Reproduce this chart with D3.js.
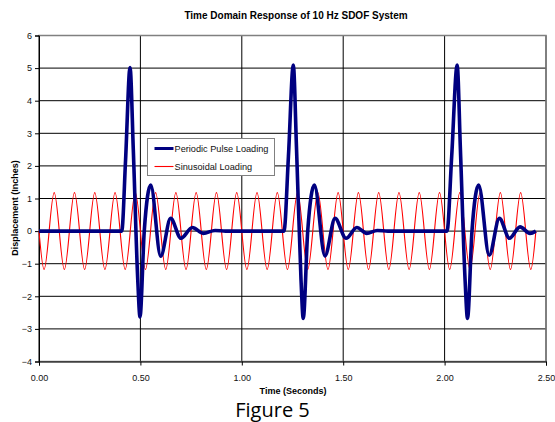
<!DOCTYPE html>
<html>
<head>
<meta charset="utf-8">
<script src="https://cdn.jsdelivr.net/npm/d3@7"></script>
<style>
	body { margin: 0; background: #fff; }
	svg { display: block; }
</style>
</head>
<body>
<svg id="chart" width="555" height="422"></svg>
<script>
var chartTitle = "Time Domain Response of 10 Hz SDOF System";
var xTitle = "Time (Seconds)";
var yTitle = "Displacement (Inches)";
var caption = "Figure 5";
var seriesNames = ["Periodic Pulse Loading", "Sinusoidal Loading"];
var xTicks = [0, 0.5, 1, 1.5, 2, 2.5];
var yTicks = [-4, -3, -2, -1, 0, 1, 2, 3, 4, 5, 6];

// pulse response (seconds / inches)
var pulseTimes = [
	0, 0.408, 0.427, 0.449, 0.465, 0.487, 0.498, 0.519, 0.551, 0.600, 0.649, 0.700, 0.756, 0.810, 0.868, 0.920,
	1.208, 1.230, 1.254, 1.270, 1.292, 1.303, 1.325, 1.358, 1.410, 1.460, 1.514, 1.567, 1.616, 1.668, 1.720,
	2.012, 2.035, 2.062, 2.078, 2.101, 2.113, 2.135, 2.168, 2.220, 2.270, 2.320, 2.372, 2.421, 2.450
];
var pulseValues = [
	0, 0, 2.2, 5.02, 2.5, -1.5, -2.63, 0, 1.41, -0.77, 0.39, -0.22, 0.11, -0.07, 0.02, 0,
	0, 2.3, 5.09, 2.5, -1.5, -2.68, 0, 1.41, -0.76, 0.39, -0.22, 0.11, -0.07, 0.02, 0,
	0, 2.3, 5.09, 2.5, -1.5, -2.68, 0, 1.41, -0.74, 0.39, -0.22, 0.13, -0.07, 0
];

// sinusoidal loading, zero crossings and peaks (quarter periods)
var sineTimes = [
	0.000, 0.025, 0.050, 0.075, 0.100, 0.125, 0.150, 0.175,
	0.200, 0.225, 0.250, 0.275, 0.300, 0.325, 0.350, 0.375,
	0.400, 0.425, 0.450, 0.475, 0.500, 0.525, 0.550, 0.575,
	0.600, 0.625, 0.650, 0.675, 0.700, 0.725, 0.750, 0.775,
	0.800, 0.825, 0.850, 0.875, 0.900, 0.925, 0.950, 0.975,
	1.000, 1.025, 1.050, 1.075, 1.100, 1.125, 1.150, 1.175,
	1.200, 1.225, 1.250, 1.275, 1.300, 1.325, 1.350, 1.375,
	1.400, 1.425, 1.450, 1.475, 1.500, 1.525, 1.550, 1.575,
	1.600, 1.625, 1.650, 1.675, 1.700, 1.725, 1.750, 1.775,
	1.800, 1.825, 1.850, 1.875, 1.900, 1.925, 1.950, 1.975,
	2.000, 2.025, 2.050, 2.075, 2.100, 2.125, 2.150, 2.175,
	2.200, 2.225, 2.250, 2.275, 2.300, 2.325, 2.350, 2.375,
	2.400, 2.425, 2.450
];
var sineValues = [
	0, -1.18, 0, 1.18, 0, -1.18, 0, 1.18,
	0, -1.18, 0, 1.18, 0, -1.18, 0, 1.18,
	0, -1.18, 0, 1.18, 0, -1.18, 0, 1.18,
	0, -1.18, 0, 1.18, 0, -1.18, 0, 1.18,
	0, -1.18, 0, 1.18, 0, -1.18, 0, 1.18,
	0, -1.18, 0, 1.18, 0, -1.18, 0, 1.18,
	0, -1.18, 0, 1.18, 0, -1.18, 0, 1.18,
	0, -1.18, 0, 1.18, 0, -1.18, 0, 1.18,
	0, -1.18, 0, 1.18, 0, -1.18, 0, 1.18,
	0, -1.18, 0, 1.18, 0, -1.18, 0, 1.18,
	0, -1.18, 0, 1.18, 0, -1.18, 0, 1.18,
	0, -1.18, 0, 1.18, 0, -1.18, 0, 1.18,
	0, -1.18, 0
];

var font = "'Liberation Sans', Arial, sans-serif";
var svg = d3.select("#chart");
var margin = {top: 35.5, right: 9, bottom: 60.5, left: 39};
var width = 555 - margin.left - margin.right,
	height = 422 - margin.top - margin.bottom;

var x = d3.scaleLinear().domain([0, 2.5]).range([0, width]);
var y = d3.scaleLinear().domain([-4, 6]).range([height, 0]);

var g = svg.append("g")
	.attr("transform", "translate(" + margin.left + "," + margin.top + ")");

// grid
g.append("g").selectAll("line")
	.data(yTicks)
	.enter().append("line")
	.attr("x1", 0).attr("x2", width)
	.attr("y1", function(d) { return y(d); })
	.attr("y2", function(d) { return y(d); })
	.attr("stroke", "#000")
	.attr("stroke-width", 1);

g.append("g").selectAll("line")
	.data(xTicks)
	.enter().append("line")
	.attr("x1", function(d) { return x(d); })
	.attr("x2", function(d) { return x(d); })
	.attr("y1", 0).attr("y2", height)
	.attr("stroke", "#000")
	.attr("stroke-width", 1);

g.append("rect")
	.attr("width", width)
	.attr("height", height)
	.attr("fill", "none")
	.attr("stroke", "#808080")
	.attr("stroke-width", 1.5);

// axes
var yAxis = g.append("g")
	.call(d3.axisLeft(y).tickValues(yTicks).tickSize(4).tickPadding(3).tickFormat(d3.format("d")));
var xAxis = g.append("g")
	.attr("transform", "translate(0," + height + ")")
	.call(d3.axisBottom(x).tickValues(xTicks).tickSize(4).tickPadding(9).tickFormat(d3.format(".2f")));

[xAxis, yAxis].forEach(function(axis) {
	axis.select(".domain").attr("stroke", "#000");
	axis.selectAll(".tick line").attr("stroke", "#000");
	axis.selectAll("text")
		.attr("fill", "#111")
		.style("font-family", font)
		.style("font-size", "9px");
});

// series
var sineData = sineTimes.map(function(t, i) { return {t: t, v: sineValues[i]}; });
var pulseData = pulseTimes.map(function(t, i) { return {t: t, v: pulseValues[i]}; });

var sineLine = d3.line()
	.x(function(d) { return x(d.t); })
	.y(function(d) { return y(d.v); })
	.curve(d3.curveNatural);

var pulseLine = d3.line()
	.x(function(d) { return x(d.t); })
	.y(function(d) { return y(d.v); })
	.curve(d3.curveMonotoneX);

g.append("path")
	.attr("d", sineLine(sineData))
	.attr("fill", "none")
	.attr("stroke", "#ff0000")
	.attr("stroke-width", 1.1);

g.append("path")
	.attr("d", pulseLine(pulseData))
	.attr("fill", "none")
	.attr("stroke", "#000080")
	.attr("stroke-width", 3.6)
	.attr("stroke-linejoin", "round");

// legend
var legend = svg.append("g").attr("transform", "translate(147.5,138.5)");
legend.append("rect")
	.attr("width", 127)
	.attr("height", 37)
	.attr("fill", "#fff")
	.attr("stroke", "#808080")
	.attr("stroke-width", 1);

var legendItems = legend.selectAll(".item")
	.data(seriesNames)
	.enter().append("g")
	.attr("class", "item")
	.attr("transform", function(d, i) { return "translate(0," + (10 + i * 18) + ")"; });

legendItems.append("line")
	.attr("x1", 7).attr("x2", 26)
	.attr("stroke", function(d, i) { return i == 0 ? "#000080" : "#ff0000"; })
	.attr("stroke-width", function(d, i) { return i == 0 ? 3 : 1.1; });

legendItems.append("text")
	.attr("x", 27)
	.attr("dy", "0.35em")
	.style("font-family", font)
	.style("font-size", "9.2px")
	.attr("fill", "#111")
	.text(function(d) { return d; });

// titles
svg.append("text")
	.attr("x", 296).attr("y", 19)
	.attr("text-anchor", "middle")
	.style("font-family", font)
	.style("font-size", "10px")
	.style("font-weight", "bold")
	.text(chartTitle);

svg.append("text")
	.attr("transform", "translate(18,208) rotate(-90)")
	.attr("text-anchor", "middle")
	.style("font-family", font)
	.style("font-size", "9px")
	.style("font-weight", "bold")
	.text(yTitle);

svg.append("text")
	.attr("x", 293).attr("y", 393.5)
	.attr("text-anchor", "middle")
	.style("font-family", font)
	.style("font-size", "9px")
	.style("font-weight", "bold")
	.text(xTitle);

svg.append("text")
	.attr("x", 272.5).attr("y", 417)
	.attr("text-anchor", "middle")
	.style("font-family", "'Open Sans', sans-serif")
	.style("font-size", "20px")
	.text(caption);
</script>
</body>
</html>
